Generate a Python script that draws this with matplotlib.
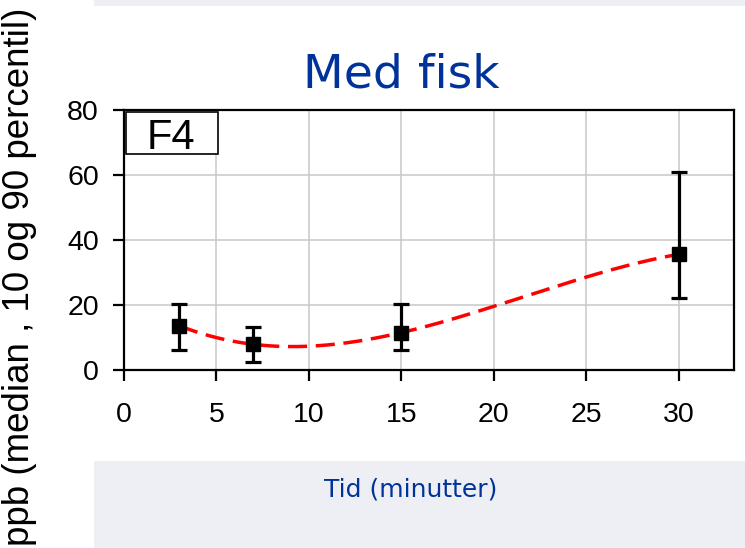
import numpy as np
import matplotlib
matplotlib.use("Agg")
import matplotlib.pyplot as plt
from matplotlib.patches import Rectangle

# Data
tid = [3, 7, 15, 30]
median = [13.6, 7.9, 11.5, 35.6]
p10 = [6.2, 2.6, 6.2, 22.2]
p90 = [20.2, 13.2, 20.2, 60.8]
x_ticks = [0, 5, 10, 15, 20, 25, 30]
y_ticks = [0, 20, 40, 60, 80]

plt.rcParams["font.family"] = ["Liberation Sans", "DejaVu Sans"]

W, H = 745, 548
fig = plt.figure(figsize=(W / 100, H / 100), dpi=100)

# background bands
fig.patches.append(Rectangle((94 / W, 1 - 6 / H), 1, 6 / H, transform=fig.transFigure,
                             facecolor="#EEEFF5", edgecolor="none", zorder=0))
fig.patches.append(Rectangle((94 / W, 0), 1, (H - 461) / H, transform=fig.transFigure,
                             facecolor="#EEEFF5", edgecolor="none", zorder=0))

ax = fig.add_axes([124 / W, (H - 370) / H, 610 / W, 260 / H])
ax.set_xlim(0, 33)
ax.set_ylim(0, 80)
ax.set_xticks(x_ticks)
ax.set_yticks(y_ticks)
ax.set_xticklabels([str(v) for v in x_ticks], fontsize=20.5)
ax.set_yticklabels([str(v) for v in y_ticks], fontsize=20.5)
ax.grid(True, color="#C8C8C8", linewidth=1.1)
ax.set_axisbelow(True)
for s in ax.spines.values():
    s.set_linewidth(1.6)
ax.tick_params(direction="out", length=8, width=1.6)
ax.tick_params(axis="x", pad=15)
ax.tick_params(axis="y", pad=10)

# cubic trend line through the medians
coef = np.polyfit(tid, median, 3)
xs = np.linspace(min(tid), max(tid), 200)
ax.plot(xs, np.polyval(coef, xs), color="red", linestyle=(0, (5.5, 2.5)), linewidth=2.5, zorder=2)

yerr = [np.array(median) - np.array(p10), np.array(p90) - np.array(median)]
ax.errorbar(tid, median, yerr=yerr, fmt="s", color="black", markersize=10.5,
            elinewidth=2.3, capsize=5.5, capthick=2.3, zorder=3)

# F4 box
ax.add_patch(Rectangle((2 / 610, 216 / 260), 92 / 610, 42 / 260, transform=ax.transAxes,
                       facecolor="white", edgecolor="black", linewidth=1.2, zorder=4))
ax.text(47 / 610, (370 - 149) / 260, "F4", transform=ax.transAxes, ha="center", va="baseline",
        fontsize=30, zorder=5)

fig.text(401 / W, 1 - 88 / H, "Med fisk", ha="center", va="baseline", fontsize=34,
         color="#003399", family="DejaVu Sans")
fig.text(411 / W, 1 - 497 / H, "Tid (minutter)", ha="center", va="baseline", fontsize=18,
         color="#003399", family="DejaVu Sans")
fig.text(20 / W, 1 - 277 / H, "ppb (median , 10 og 90 percentil)", rotation=90,
         ha="center", va="center", fontsize=26.5)

fig.savefig("out.png", dpi=100)
